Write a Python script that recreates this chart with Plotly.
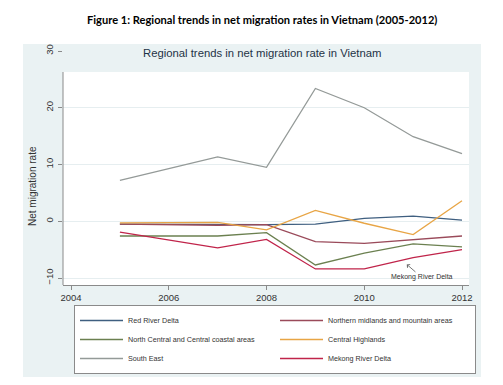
import plotly.graph_objects as go

years = [2005, 2007, 2008, 2009, 2010, 2011, 2012]
red_river = [-0.5, -0.6, -0.6, -0.5, 0.5, 0.9, 0.2]
northern = [-0.5, -0.7, -0.6, -3.6, -3.9, -3.2, -2.6]
north_central = [-2.6, -2.6, -2.0, -7.7, -5.6, -4.0, -4.5]
central_high = [-0.3, -0.2, -1.5, 1.9, -0.35, -2.35, 3.6]
south_east = [7.2, 11.35, 9.5, 23.4, 20.0, 14.9, 11.9]
mekong = [-1.9, -4.7, -3.2, -8.4, -8.4, -6.4, -5.0]

series = [
    ("Red River Delta", red_river, "#3f5f80"),
    ("Northern midlands and mountain areas", northern, "#9a4a5a"),
    ("North Central and Central coastal areas", north_central, "#6b8050"),
    ("Central Highlands", central_high, "#e8a545"),
    ("South East", south_east, "#949a98"),
    ("Mekong River Delta", mekong, "#c0244a"),
]

x_ticks = [2004, 2006, 2008, 2010, 2012]
y_ticks = [-10, 0, 10, 20, 30]

fig = go.Figure()
for name, vals, col in series:
    fig.add_trace(go.Scatter(x=years, y=vals, mode="lines", name=name,
                             line=dict(color=col, width=1.3)))

FONT = "Liberation Sans, Arial, sans-serif"
OFF = 8  # default page body margin
W, H = 503 - OFF, 385 - OFF
L, T = 63 - OFF, 51 - OFF
R = W - (469 - OFF)
B = H - (285 - OFF)
pw, ph = W - L - R, H - T - B

def px(x):
    return (x - OFF - L) / pw

def py(y):
    return (H - B - (y - OFF)) / ph

fig.update_layout(
    width=W, height=H,
    margin=dict(l=L, r=R, t=T, b=B, autoexpand=False),
    paper_bgcolor="white",
    plot_bgcolor="rgba(0,0,0,0)",
    showlegend=True,
    font=dict(family=FONT, color="#333333", size=10),
    xaxis=dict(range=[2003.836, 2012.143], tickvals=x_ticks, showgrid=False,
               zeroline=False, showline=True, linecolor="#8a8a8a", linewidth=1,
               ticks="outside", ticklen=4, tickcolor="#8a8a8a",
               tickfont=dict(size=9.5, color="#333333")),
    yaxis=dict(range=[-11.23, 30], tickvals=y_ticks, showgrid=True,
               gridcolor="#e6eef0", gridwidth=1, zeroline=False, showline=False,
               ticks="outside", ticklen=4, tickcolor="#8a8a8a", tickangle=-90,
               ticklabelstandoff=1,
               tickfont=dict(size=9.5, color="#333333")),
    legend=dict(orientation="h", x=px(74), y=py(305), xanchor="left", yanchor="top",
                bgcolor="white", bordercolor="#8a8a8a", borderwidth=1,
                font=dict(size=7.2, color="#333333", family=FONT),
                entrywidth=142, entrywidthmode="pixels", itemwidth=43,
                traceorder="normal"),
    shapes=[
        dict(type="rect", xref="paper", yref="paper", x0=px(23), x1=px(481),
             y0=py(377), y1=py(44), fillcolor="#eaf2f3", line=dict(width=0), layer="below"),
        dict(type="rect", xref="paper", yref="paper", x0=0, x1=1,
             y0=0, y1=py(72), fillcolor="white", line=dict(width=0), layer="below"),
        dict(type="line", xref="paper", yref="paper", x0=0, x1=0,
             y0=0, y1=py(72), line=dict(color="#8a8a8a", width=1)),
    ],
    annotations=[
        dict(text="<b>Figure 1: Regional trends in net migration rates in Vietnam (2005-2012)</b>",
             xref="paper", yref="paper", x=px(262), y=py(19), xanchor="center", yanchor="middle",
             showarrow=False,
             font=dict(family="Liberation Sans Narrow, Lato, sans-serif", size=11.1, color="black")),
        dict(text="Regional trends in net migration rate in Vietnam",
             xref="paper", yref="paper", x=px(262), y=py(53), xanchor="center", yanchor="middle",
             showarrow=False, font=dict(family=FONT, size=11.3, color="#1e3246")),
        dict(text="Net migration rate", xref="paper", yref="paper", x=px(32), y=py(186),
             xanchor="center", yanchor="middle",
             textangle=-90, showarrow=False, font=dict(family=FONT, size=10, color="#333333")),
        dict(text="Mekong River Delta", x=2010.87, y=-7.6, xref="x", yref="y",
             ax=15, ay=13, showarrow=True, arrowhead=4, arrowsize=1, arrowwidth=0.8,
             arrowcolor="#555555", font=dict(family=FONT, size=7, color="#333333")),
    ],
)

fig.write_html("out.html")
